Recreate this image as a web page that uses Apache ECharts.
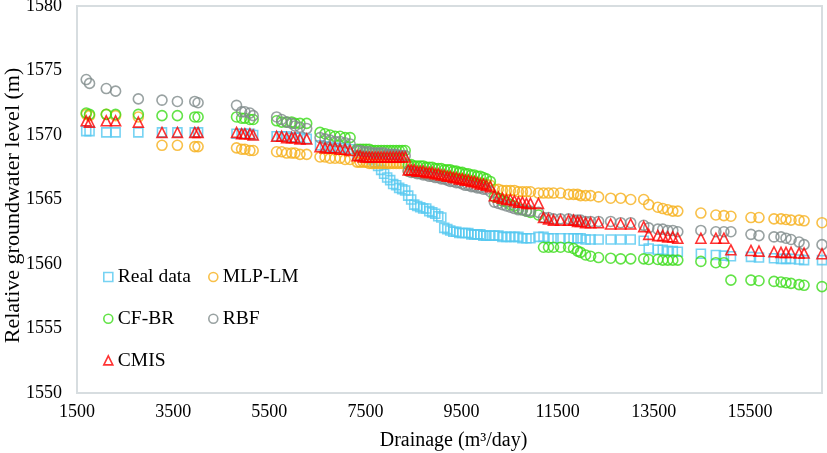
<!DOCTYPE html>
<html>
<head>
<meta charset="utf-8">
<script src="https://cdn.jsdelivr.net/npm/echarts@6/dist/echarts.min.js"></script>
<style>
html,body{margin:0;padding:0;background:#fff;}
#chart{width:827px;height:453px;}
</style>
</head>
<body>
<div id="chart"></div>
<script>
const drainage = [1692,1761,2109,2303,2776,3268,3589,3950,4019,4819,4924,4992,5097,5165,5653,5758,5862,5966,6035,6139,6279,
6556,6660,6765,6869,6973,7077,7182,
7328,7390,7453,7515,7578,7640,7703,7765,7828,7890,7953,8016,8078,8141,8203,8266,8328,
8391,8453,8516,8578,8641,8703,8766,8829,8891,8954,9016,9079,9141,9204,9266,9329,9391,9454,9516,9579,9641,9704,9766,9829,9891,9954,10017,
10100,10183,10267,10350,10434,10517,10600,10684,10767,10851,10934,
11101,11206,11310,11414,11560,
11727,11831,11915,11977,12081,12186,12352,12603,12811,13020,13291,13395,13583,13687,13791,13896,14000,14480,14792,14959,15105,15522,15689,16001,16147,16251,16356,16523,16627,17000];

const realData = [1570.3,1570.3,1570.2,1570.2,1570.2,1570.2,1570.2,1570.2,1570.2,1570.1,1570.1,1570.1,1570.1,1570.0,1569.9,1569.9,1569.9,1569.8,1569.8,1569.8,1569.7,
1569.2,1569.1,1569.1,1569.0,1569.0,1569.0,1568.9,
1568.4,1568.4,1568.3,1568.3,1568.2,1568.1,1567.9,1567.6,1567.3,1567.0,1566.7,1566.5,1566.2,1566.1,1565.9,1565.8,1565.7,
1565.3,1565.0,1564.6,1564.5,1564.4,1564.3,1564.3,1564.1,1564.0,1563.9,1563.7,1563.6,1562.8,1562.7,1562.6,1562.5,1562.5,1562.4,1562.4,1562.4,1562.4,1562.3,1562.3,1562.3,1562.3,1562.2,1562.2,
1562.2,1562.2,1562.2,1562.1,1562.1,1562.1,1562.1,1562.1,1562.0,1562.0,1562.0,
1562.1,1562.1,1562.0,1562.0,1562.0,
1562.0,1562.0,1562.0,1562.0,1561.9,1561.9,1561.9,1561.9,1561.9,1561.9,1561.8,1561.2,1561.1,1561.1,1561.0,1561.0,1560.95,1560.8,1560.7,1560.65,1560.6,1560.55,1560.5,1560.45,1560.4,1560.4,1560.4,1560.35,1560.3,1560.3];

const mlpLm = [1571.6,1571.5,1571.6,1571.5,1571.4,1569.2,1569.2,1569.1,1569.1,1569.0,1568.9,1568.9,1568.8,1568.8,1568.7,1568.7,1568.6,1568.6,1568.6,1568.5,1568.5,
1568.3,1568.3,1568.2,1568.2,1568.2,1568.1,1568.1,
1567.9,1567.9,1567.9,1567.9,1567.8,1567.8,1567.8,1567.8,1567.8,1567.8,1567.8,1567.8,1567.8,1567.8,1567.8,1567.8,1567.8,
1567.2,1567.2,1567.1,1567.1,1567.1,1567.0,1567.0,1567.0,1566.9,1566.9,1566.9,1566.8,1566.8,1566.8,1566.7,1566.7,1566.6,1566.6,1566.6,1566.5,1566.5,1566.4,1566.4,1566.3,1566.3,1566.2,1566.2,
1566.1,1565.8,1565.8,1565.7,1565.7,1565.7,1565.7,1565.6,1565.6,1565.6,1565.6,
1565.5,1565.5,1565.5,1565.5,1565.5,
1565.4,1565.4,1565.4,1565.3,1565.3,1565.3,1565.2,1565.1,1565.1,1565.0,1565.0,1564.6,1564.4,1564.3,1564.2,1564.1,1564.1,1563.95,1563.8,1563.75,1563.7,1563.6,1563.6,1563.5,1563.5,1563.45,1563.4,1563.4,1563.35,1563.2];

const cfBr = [1571.7,1571.6,1571.6,1571.6,1571.6,1571.5,1571.5,1571.4,1571.4,1571.4,1571.3,1571.3,1571.2,1571.2,1571.1,1571.0,1571.0,1571.0,1570.9,1570.9,1570.9,
1570.2,1570.1,1570.0,1569.9,1569.9,1569.8,1569.8,
1568.9,1568.9,1568.9,1568.9,1568.9,1568.8,1568.8,1568.8,1568.8,1568.8,1568.8,1568.8,1568.8,1568.8,1568.8,1568.8,1568.8,
1567.7,1567.7,1567.6,1567.6,1567.6,1567.6,1567.5,1567.5,1567.5,1567.4,1567.4,1567.4,1567.3,1567.3,1567.3,1567.2,1567.2,1567.1,1567.1,1567.0,1567.0,1566.9,1566.9,1566.8,1566.8,1566.7,1566.6,
1566.4,1565.2,1565.1,1564.9,1564.8,1564.6,1564.5,1564.3,1564.2,1564.1,1564.0,
1563.8,1561.3,1561.3,1561.3,1561.3,
1561.3,1561.2,1561.0,1560.9,1560.7,1560.6,1560.5,1560.45,1560.4,1560.4,1560.4,1560.35,1560.35,1560.3,1560.3,1560.3,1560.3,1560.2,1560.1,1560.1,1558.75,1558.75,1558.7,1558.65,1558.6,1558.55,1558.5,1558.4,1558.35,1558.25];

const rbf = [1574.3,1574.0,1573.6,1573.4,1572.8,1572.7,1572.6,1572.6,1572.5,1572.3,1571.8,1571.8,1571.7,1571.5,1571.4,1571.2,1571.0,1570.9,1570.7,1570.6,1570.5,
1569.8,1569.7,1569.6,1569.5,1569.5,1569.4,1569.3,
1568.8,1568.8,1568.7,1568.7,1568.7,1568.6,1568.6,1568.6,1568.6,1568.6,1568.5,1568.5,1568.5,1568.5,1568.4,1568.4,1568.4,
1567.2,1567.1,1567.1,1567.0,1567.0,1566.9,1566.9,1566.8,1566.8,1566.7,1566.7,1566.6,1566.6,1566.5,1566.4,1566.4,1566.3,1566.3,1566.2,1566.1,1566.1,1566.0,1566.0,1565.9,1565.9,1565.8,1565.8,
1565.6,1564.8,1564.7,1564.6,1564.5,1564.4,1564.3,1564.2,1564.2,1564.1,1564.1,
1564.0,1563.6,1563.6,1563.5,1563.5,
1563.5,1563.4,1563.4,1563.4,1563.3,1563.3,1563.3,1563.3,1563.2,1563.2,1563.0,1562.8,1562.7,1562.7,1562.6,1562.6,1562.5,1562.6,1562.5,1562.5,1562.5,1562.3,1562.2,1562.1,1562.1,1562.0,1561.9,1561.7,1561.5,1561.5];

const cmis = [1571.1,1571.0,1571.1,1571.1,1571.0,1570.2,1570.2,1570.2,1570.2,1570.2,1570.1,1570.1,1570.1,1570.0,1569.9,1569.9,1569.8,1569.8,1569.8,1569.7,1569.7,
1569.1,1569.0,1569.0,1569.0,1568.9,1568.9,1568.8,
1568.4,1568.4,1568.3,1568.3,1568.3,1568.3,1568.3,1568.3,1568.3,1568.3,1568.3,1568.3,1568.3,1568.3,1568.3,1568.3,1568.3,
1567.3,1567.3,1567.3,1567.2,1567.2,1567.2,1567.1,1567.1,1567.1,1567.0,1567.0,1566.9,1566.9,1566.8,1566.8,1566.7,1566.7,1566.6,1566.6,1566.5,1566.5,1566.4,1566.4,1566.3,1566.2,1566.2,1566.1,
1566.0,1565.3,1565.2,1565.1,1565.0,1565.0,1564.9,1564.8,1564.8,1564.7,1564.7,
1564.7,1563.6,1563.5,1563.4,1563.4,
1563.4,1563.4,1563.3,1563.3,1563.2,1563.2,1563.2,1563.1,1563.1,1563.1,1562.9,1562.3,1562.2,1562.2,1562.1,1562.1,1562.0,1562.0,1562.0,1562.0,1561.1,1561.05,1561.0,1560.95,1560.9,1560.9,1560.9,1560.85,1560.85,1560.8];

const seriesNames = ['Real data','MLP-LM','CF-BR','RBF','CMIS'];
const seriesValues = [realData, mlpLm, cfBr, rbf, cmis];
const seriesColors = ['#55c8f0','#f6b01c','#3cdc1a','#7f8b8b','#ff0000'];
const seriesSymbols = ['rect','circle','circle','circle','triangle'];
const symbolSizes = [9,10,10,10,10];

const FONT = '"Liberation Serif","Times New Roman",serif';

const chart = echarts.init(document.getElementById('chart'), null, {renderer:'canvas'});

const series = seriesNames.map((name, i) => ({
  name: name,
  type: 'scatter',
  symbol: seriesSymbols[i],
  symbolSize: symbolSizes[i],
  itemStyle: { color: 'rgba(0,0,0,0)', borderColor: seriesColors[i], borderWidth: 1.6 },
  emphasis: { disabled: true },
  data: drainage.map((x, k) => [x, seriesValues[i][k]])
}));

const legendCommon = {
  orient: 'vertical',
  itemWidth: 9,
  itemHeight: 9,
  itemGap: 21.7,
  padding: 0,
  textStyle: { fontFamily: FONT, fontSize: 19.5, color: '#000', lineHeight: 20 },
  itemStyle: { borderWidth: 1.6 },
  selectedMode: false
};

const plain = v => String(v);

chart.setOption({
  animation: false,
  textStyle: { fontFamily: FONT },
  grid: { left: 77, top: 6, right: 5, bottom: 60, show: true, borderColor: '#d7dde0', borderWidth: 2,
          backgroundColor: 'transparent', containLabel: false, outerBoundsMode: 'none' },
  legend: [
    Object.assign({}, legendCommon, { left: 103, top: 267, data: ['Real data','CF-BR','CMIS'] }),
    Object.assign({}, legendCommon, { left: 208, top: 267, data: ['MLP-LM','RBF'] })
  ],
  xAxis: {
    type: 'value', min: 1500, max: 17000, interval: 2000,
    name: 'Drainage (m³/day)', nameLocation: 'middle', nameGap: 38, nameMoveOverlap: false,
    nameTextStyle: { fontFamily: FONT, fontSize: 20, color: '#000', padding: [0, 0, 0, 8] },
    axisLine: { show: false }, axisTick: { show: false }, splitLine: { show: false },
    axisLabel: { fontFamily: FONT, fontSize: 18, color: '#000', margin: 10, showMaxLabel: false, formatter: plain }
  },
  yAxis: {
    type: 'value', min: 1550, max: 1580, interval: 5,
    name: 'Relative groundwater level (m)', nameLocation: 'middle', nameGap: 53, nameMoveOverlap: false,
    nameTextStyle: { fontFamily: FONT, fontSize: 22, color: '#000', lineHeight: 22, padding: [0, 12, 0, 0] },
    axisLine: { show: false }, axisTick: { show: false }, splitLine: { show: false },
    axisLabel: { fontFamily: FONT, fontSize: 18, color: '#000', margin: 15, formatter: plain }
  },
  series: series
});
</script>
</body>
</html>
